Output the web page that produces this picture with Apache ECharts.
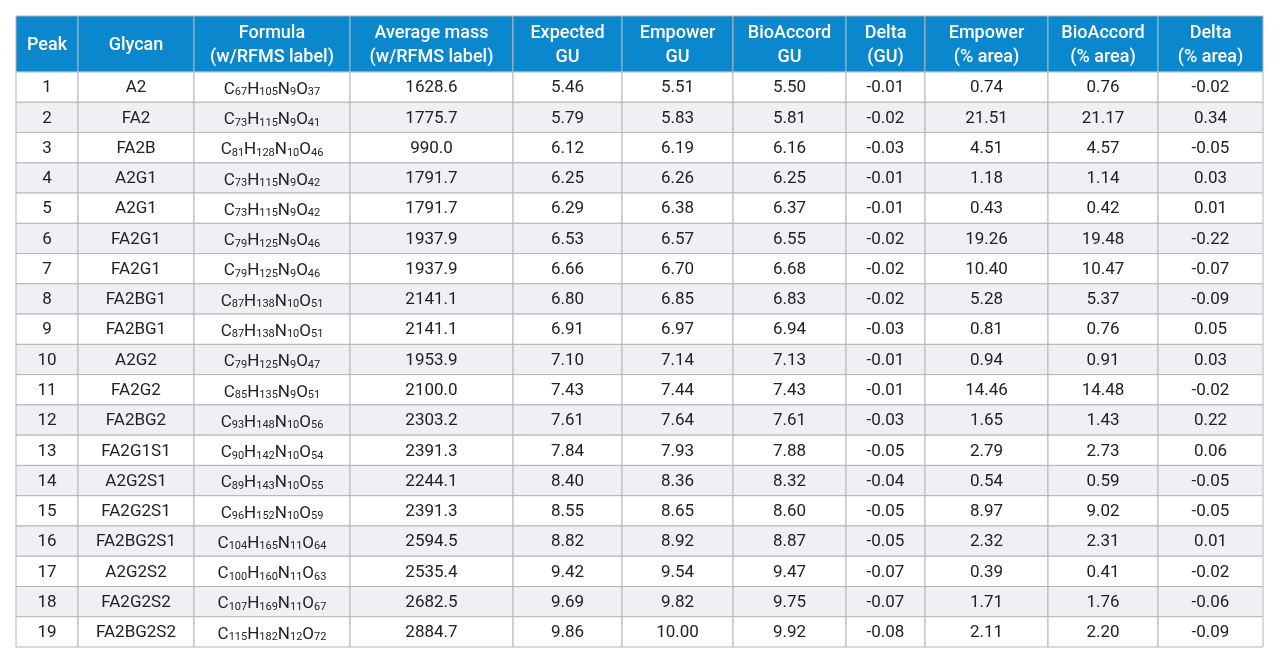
<!DOCTYPE html>
<html><head><meta charset="utf-8">
<script src="https://cdn.jsdelivr.net/npm/echarts@6/dist/echarts.min.js"></script>
<style>html,body{margin:0;padding:0;background:#fff}#c{width:1280px;height:664px}</style>
</head><body><div id="c"></div>
<script>
const headers = ['Peak','Glycan','Formula\n(w/RFMS label)','Average mass\n(w/RFMS label)','Expected\nGU','Empower\nGU','BioAccord\nGU','Delta\n(GU)','Empower\n(% area)','BioAccord\n(% area)','Delta\n(% area)'];
const peaks = [1,2,3,4,5,6,7,8,9,10,11,12,13,14,15,16,17,18,19];
const glycans = ['A2','FA2','FA2B','A2G1','A2G1','FA2G1','FA2G1','FA2BG1','FA2BG1','A2G2','FA2G2','FA2BG2','FA2G1S1','A2G2S1','FA2G2S1','FA2BG2S1','A2G2S2','FA2G2S2','FA2BG2S2'];
const formulas = ['C67H105N9O37','C73H115N9O41','C81H128N10O46','C73H115N9O42','C73H115N9O42','C79H125N9O46','C79H125N9O46','C87H138N10O51','C87H138N10O51','C79H125N9O47','C85H135N9O51','C93H148N10O56','C90H142N10O54','C89H143N10O55','C96H152N10O59','C104H165N11O64','C100H160N11O63','C107H169N11O67','C115H182N12O72'];
const avgMass = ['1628.6','1775.7','990.0','1791.7','1791.7','1937.9','1937.9','2141.1','2141.1','1953.9','2100.0','2303.2','2391.3','2244.1','2391.3','2594.5','2535.4','2682.5','2884.7'];
const expectedGU = ['5.46','5.79','6.12','6.25','6.29','6.53','6.66','6.80','6.91','7.10','7.43','7.61','7.84','8.40','8.55','8.82','9.42','9.69','9.86'];
const empowerGU = ['5.51','5.83','6.19','6.26','6.38','6.57','6.70','6.85','6.97','7.14','7.44','7.64','7.93','8.36','8.65','8.92','9.54','9.82','10.00'];
const bioAccordGU = ['5.50','5.81','6.16','6.25','6.37','6.55','6.68','6.83','6.94','7.13','7.43','7.61','7.88','8.32','8.60','8.87','9.47','9.75','9.92'];
const deltaGU = ['-0.01','-0.02','-0.03','-0.01','-0.01','-0.02','-0.02','-0.02','-0.03','-0.01','-0.01','-0.03','-0.05','-0.04','-0.05','-0.05','-0.07','-0.07','-0.08'];
const empowerArea = ['0.74','21.51','4.51','1.18','0.43','19.26','10.40','5.28','0.81','0.94','14.46','1.65','2.79','0.54','8.97','2.32','0.39','1.71','2.11'];
const bioAccordArea = ['0.76','21.17','4.57','1.14','0.42','19.48','10.47','5.37','0.76','0.91','14.48','1.43','2.73','0.59','9.02','2.31','0.41','1.76','2.20'];
const deltaArea = ['-0.02','0.34','-0.05','0.03','0.01','-0.22','-0.07','-0.09','0.05','0.03','-0.02','0.22','0.06','-0.05','-0.05','0.01','-0.02','-0.06','-0.09'];

// layout (pixel-space axis)
const colEdges = [16,78,194,350,513,622,733,846,925,1048,1158,1263];
const headTop = 16, headBottom = 72, tableBottom = 647;
const nRows = peaks.length;
const rowH = (tableBottom - headBottom) / nRows;

const columns = [peaks.map(String), glycans, formulas, avgMass, expectedGU, empowerGU, bioAccordGU, deltaGU, empowerArea, bioAccordArea, deltaArea];

function formulaRich(f){
  return f.match(/[A-Z][a-z]?|\d+/g).map(t => /\d/.test(t) ? '{s|'+t+'}' : '{n|'+t+'}').join('');
}

const data = [];
for (let c = 0; c < headers.length; c++) {
  data.push([c, -1]);
  for (let r = 0; r < nRows; r++) data.push([c, r]);
}

const chart = echarts.init(document.getElementById('c'), null, {renderer:'canvas'});
chart.setOption({
  animation:false,
  grid:{left:16,right:17,top:16,bottom:17},
  xAxis:{type:'value',min:16,max:1263,show:false},
  yAxis:{type:'value',min:16,max:647,inverse:true,show:false},
  series:[{
    type:'custom',
    data:data,
    renderItem:function(params, api){
      const c = api.value(0), r = api.value(1);
      const x0 = colEdges[c], x1 = colEdges[c+1];
      const y0 = r < 0 ? headTop : headBottom + r*rowH;
      const y1 = r < 0 ? headBottom : headBottom + (r+1)*rowH;
      const p0 = api.coord([x0,y0]), p1 = api.coord([x1,y1]);
      const w = p1[0]-p0[0], h = p1[1]-p0[1];
      const cx = p0[0]+w/2, cy = p0[1]+h/2;
      const fill = r < 0 ? '#0a87cd' : (r % 2 === 1 ? '#eef0f4' : '#ffffff');
      const children = [{
        type:'rect', shape:{x:p0[0],y:p0[1],width:w,height:h},
        style:{fill:fill, stroke: '#b4b6b9', lineWidth:1}
      }];
      if (r < 0) {
        children.push({type:'text', style:{text:headers[c], x:cx, y:cy+1, align:'center', verticalAlign:'middle',
          fill:'#ffffff', font:'500 18px Roboto', lineHeight:24}});
      } else if (c === 2) {
        children.push({type:'text', style:{text:formulaRich(columns[c][r]), x:cx, y:cy+1, align:'center', verticalAlign:'middle',
          rich:{n:{fontFamily:'Roboto',fontSize:17,fill:'#222',verticalAlign:'bottom',lineHeight:20},
                s:{fontFamily:'Roboto',fontSize:11,fill:'#222',verticalAlign:'bottom',lineHeight:20,padding:[7,0,0,0]}}}});
      } else {
        children.push({type:'text', style:{text:columns[c][r], x:cx, y:cy+1, align:'center', verticalAlign:'middle',
          fill:'#222222', font:'17px Roboto'}});
      }
      return {type:'group', children:children};
    }
  }]
});
</script></body></html>
